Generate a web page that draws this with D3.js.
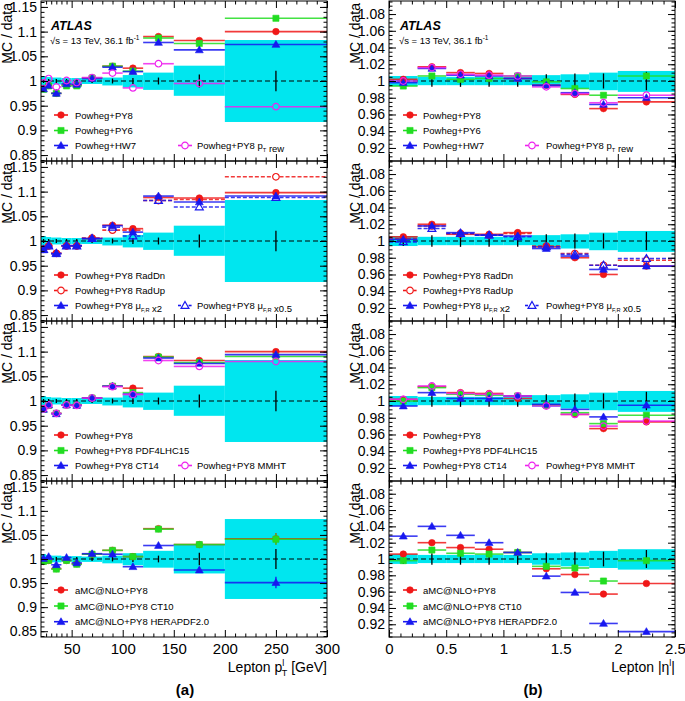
<!DOCTYPE html>
<html><head><meta charset="utf-8">
<script src="https://cdn.jsdelivr.net/npm/d3@7"></script>
<style>body{margin:0;background:#fff} svg{display:block} text{font-family:"Liberation Sans",Arial,Helvetica,sans-serif}</style>
</head><body><svg id="c" width="685" height="701"></svg>
<script>
// ---------- DATA ----------
const ptEdges = [20,25,30,40,50,60,80,100,120,150,200,300];
const etaEdges = [0,0.25,0.5,0.75,1,1.25,1.5,1.75,2,2.5];
const ptTicks = [50,100,150,200,250,300];
const etaTicks = [0,0.5,1,1.5,2,2.5];
const ptYTicks = [0.85,0.9,0.95,1,1.05,1.1,1.15];
const etaYTicks = [0.92,0.94,0.96,0.98,1,1.02,1.04,1.06,1.08];

const ptBandUp = [0.010,0.008,0.007,0.006,0.006,0.005,0.007,0.012,0.017,0.031,0.083];
const ptBandDn = [0.010,0.008,0.007,0.006,0.006,0.006,0.009,0.013,0.018,0.030,0.083];
const ptDataErr = [0.004,0.004,0.004,0.004,0.004,0.004,0.005,0.006,0.007,0.013,0.021];
const etaBandUp = [0.006,0.005,0.005,0.005,0.005,0.007,0.008,0.010,0.012];
const etaBandDn = [0.006,0.005,0.005,0.005,0.005,0.007,0.009,0.011,0.013];
const etaDataErr = [0.006,0.007,0.007,0.007,0.007,0.008,0.009,0.009,0.011];

// lepton pT
const ptPowhegPy8 = [0.985,0.991,0.975,0.992,0.992,1.006,1.030,1.026,1.090,1.082,1.100];
const ptPowhegPy6 = [0.983,0.990,0.975,0.990,0.990,1.006,1.030,1.020,1.087,1.076,1.127];
const ptPowhegHw7 = [0.984,0.991,0.975,0.994,0.993,1.005,1.028,1.019,1.078,1.063,1.074];
const ptPtRew     = [0.996,1.005,0.988,1.001,0.997,1.007,1.016,0.986,1.035,0.995,0.948];
const ptRadDn     = [0.983,0.990,0.975,0.990,0.990,1.005,1.032,1.025,1.088,1.087,1.098];
const ptRadUp     = [0.984,0.990,0.975,0.990,0.990,1.006,1.022,1.022,1.082,1.084,1.130];
const ptMuX2      = [0.982,0.991,0.974,0.991,0.991,1.005,1.031,1.018,1.091,1.079,1.091];
const ptMuX05     = [0.983,0.990,0.975,0.990,0.990,1.005,1.028,1.010,1.082,1.069,1.088];
const ptPdf4lhc   = [0.983,0.991,0.975,0.992,0.991,1.006,1.030,1.017,1.089,1.078,1.090];
const ptCt14      = [0.983,0.992,0.974,0.992,0.991,1.006,1.030,1.014,1.087,1.076,1.094];
const ptMmht      = [0.984,0.992,0.975,0.992,0.991,1.006,1.029,1.013,1.082,1.070,1.080];
const ptAmc       = [0.995,0.997,0.980,0.997,0.990,1.010,1.018,1.005,1.063,1.030,1.042];
const ptAmcCt10   = [0.995,0.997,0.979,0.997,0.989,1.010,1.018,1.005,1.062,1.030,1.041];
const ptAmcHera   = [1.001,1.005,0.988,1.003,0.992,1.011,1.010,0.984,1.028,0.977,0.951];
const ptAmcErr    = [0,0,0,0,0,0,0,0,0.004,0.005,0.012];

// lepton |eta|
const etaPowhegPy8 = [1.002,1.017,1.010,1.009,1.003,0.995,0.984,0.967,0.975];
const etaPowhegPy6 = [0.994,1.006,1.002,1.003,1.006,0.999,0.991,0.983,1.006];
const etaPowhegHw7 = [0.998,1.015,1.007,1.006,1.003,0.995,0.986,0.972,0.980];
const etaPtRew     = [1.000,1.016,1.008,1.007,1.006,0.993,0.985,0.974,0.983];
const etaRadDn     = [1.005,1.020,1.008,1.008,1.010,0.993,0.980,0.960,0.970];
const etaRadUp     = [1.003,1.018,1.009,1.007,1.009,0.994,0.985,0.971,0.977];
const etaMuX2      = [1.002,1.018,1.010,1.007,1.006,0.991,0.982,0.966,0.970];
const etaMuX05     = [0.999,1.015,1.009,1.007,1.005,0.993,0.984,0.971,0.979];
const etaPdf4lhc   = [1.000,1.016,1.008,1.007,1.006,0.995,0.986,0.973,0.983];
const etaCt14      = [0.994,1.010,1.003,1.003,1.006,0.996,0.990,0.981,0.995];
const etaMmht      = [1.002,1.018,1.009,1.008,1.006,0.994,0.984,0.970,0.976];
const etaAmc       = [1.006,1.020,1.014,1.012,1.008,0.988,0.981,0.957,0.970];
const etaAmcCt10   = [0.998,1.011,1.007,1.006,1.008,0.991,0.989,0.973,0.998];
const etaAmcHera   = [1.028,1.040,1.029,1.020,1.008,0.979,0.959,0.921,0.911];

// ---------- STYLE / LAYOUT ----------
const C = {red:"#f01818", green:"#22dd22", blue:"#1818f0", magenta:"#ee22ee", band:"#00e6ef"};
const panelTops = [1,161,321,481], panelHeights = [160,160,160,156];
const FONT = '"Liberation Sans",Arial,Helvetica,sans-serif';

function S(vals, color, shape, open, dashed, label, col, row, err){
  return {vals, color, shape, open, dashed, label, col, row, err};
}
const L = (s)=>[{t:s}];
const panelsPt = [
  [S(ptPowhegPy8,C.red,"circle",false,false,L("Powheg+PY8"),0,0),
   S(ptPowhegPy6,C.green,"square",false,false,L("Powheg+PY6"),0,1),
   S(ptPowhegHw7,C.blue,"triangle",false,false,L("Powheg+HW7"),0,2),
   S(ptPtRew,C.magenta,"circle",true,false,[{t:"Powheg+PY8 p"},{t:"T",sub:true},{t:" rew"}],1,2)],
  [S(ptRadDn,C.red,"circle",false,false,L("Powheg+PY8 RadDn"),0,0),
   S(ptRadUp,C.red,"circle",true,true,L("Powheg+PY8 RadUp"),0,1),
   S(ptMuX2,C.blue,"triangle",false,false,[{t:"Powheg+PY8 μ"},{t:"F,R",sub:true},{t:" x2"}],0,2),
   S(ptMuX05,C.blue,"triangle",true,true,[{t:"Powheg+PY8 μ"},{t:"F,R",sub:true},{t:" x0.5"}],1,2)],
  [S(ptPowhegPy8,C.red,"circle",false,false,L("Powheg+PY8"),0,0),
   S(ptPdf4lhc,C.green,"square",false,false,L("Powheg+PY8 PDF4LHC15"),0,1),
   S(ptCt14,C.blue,"triangle",false,false,L("Powheg+PY8 CT14"),0,2),
   S(ptMmht,C.magenta,"circle",true,false,L("Powheg+PY8 MMHT"),1,2)],
  [S(ptAmc,C.red,"circle",false,false,L("aMC@NLO+PY8"),0,0,ptAmcErr),
   S(ptAmcCt10,C.green,"square",false,false,L("aMC@NLO+PY8 CT10"),0,1,ptAmcErr),
   S(ptAmcHera,C.blue,"triangle",false,false,L("aMC@NLO+PY8 HERAPDF2.0"),0,2,ptAmcErr)]
];
const panelsEta = [
  [S(etaPowhegPy8,C.red,"circle",false,false,L("Powheg+PY8"),0,0),
   S(etaPowhegPy6,C.green,"square",false,false,L("Powheg+PY6"),0,1),
   S(etaPowhegHw7,C.blue,"triangle",false,false,L("Powheg+HW7"),0,2),
   S(etaPtRew,C.magenta,"circle",true,false,[{t:"Powheg+PY8 p"},{t:"T",sub:true},{t:" rew"}],1,2)],
  [S(etaRadDn,C.red,"circle",false,false,L("Powheg+PY8 RadDn"),0,0),
   S(etaRadUp,C.red,"circle",true,true,L("Powheg+PY8 RadUp"),0,1),
   S(etaMuX2,C.blue,"triangle",false,false,[{t:"Powheg+PY8 μ"},{t:"F,R",sub:true},{t:" x2"}],0,2),
   S(etaMuX05,C.blue,"triangle",true,true,[{t:"Powheg+PY8 μ"},{t:"F,R",sub:true},{t:" x0.5"}],1,2)],
  [S(etaPowhegPy8,C.red,"circle",false,false,L("Powheg+PY8"),0,0),
   S(etaPdf4lhc,C.green,"square",false,false,L("Powheg+PY8 PDF4LHC15"),0,1),
   S(etaCt14,C.blue,"triangle",false,false,L("Powheg+PY8 CT14"),0,2),
   S(etaMmht,C.magenta,"circle",true,false,L("Powheg+PY8 MMHT"),1,2)],
  [S(etaAmc,C.red,"circle",false,false,L("aMC@NLO+PY8"),0,0),
   S(etaAmcCt10,C.green,"square",false,false,L("aMC@NLO+PY8 CT10"),0,1),
   S(etaAmcHera,C.blue,"triangle",false,false,L("aMC@NLO+PY8 HERAPDF2.0"),0,2)]
];

const sides = [
  {edges:ptEdges, xDomain:[20,300], xRange:[41,327], yDomain:[0.838,1.162],
   yTicks:ptYTicks, yMinor:d3.range(0.84,1.165,0.01), xTicks:ptTicks,
   xMinor:[25,30,35,40,45].concat(d3.range(60,300,10).filter(v=>v%50!==0)),
   bandUp:ptBandUp, bandDn:ptBandDn, dataErr:ptDataErr, panels:panelsPt,
   legMarkX:[61,185], legTextX:[75,197], titleX:12, atlasX:51, tag:"(a)", tagX:185},
  {edges:etaEdges, xDomain:[0,2.5], xRange:[389,675], yDomain:[0.9044,1.0956],
   yTicks:etaYTicks, yMinor:d3.range(0.905,1.0951,0.005), xTicks:etaTicks,
   xMinor:d3.range(0.1,2.5,0.1).filter(v=>Math.abs(v*2-Math.round(v*2))>1e-6),
   bandUp:etaBandUp, bandDn:etaBandDn, dataErr:etaDataErr, panels:panelsEta,
   legMarkX:[410,532], legTextX:[423,546], titleX:360, atlasX:400, tag:"(b)", tagX:533}
];

const svg = d3.select("#c");
const fmt = d => String(+d.toFixed(3));

function marker(g, shape, open, color, cx, cy){
  const types = {circle:[d3.symbolCircle,34], square:[d3.symbolSquare,38], triangle:[d3.symbolTriangle,27]};
  const [t,sz] = types[shape];
  g.append("path").attr("d", d3.symbol(t, sz)())
   .attr("transform", `translate(${cx},${cy + (shape==="triangle"?0.6:0)})`)
   .attr("fill", open ? "none" : color).attr("stroke", color).attr("stroke-width", open?1.2:0.6);
}
function richText(g, x, y, parts, size){
  const t = g.append("text").attr("x",x).attr("y",y).attr("font-size",size).attr("fill","#000");
  parts.forEach(p=>{
    if(p.sub){ t.append("tspan").attr("font-size",size*0.6).attr("dy",2.5).text(p.t);
      t.append("tspan").attr("dy",-2.5).text(""); }
    else t.append("tspan").text(p.t);
  });
  return t;
}

sides.forEach((side, si)=>{
  const x = d3.scaleLinear().domain(side.xDomain).range(side.xRange);
  const nb = side.edges.length-1;
  side.panels.forEach((series, pi)=>{
    const top = panelTops[pi], h = panelHeights[pi];
    const y = d3.scaleLinear().domain(side.yDomain).range([top+h, top]);
    const g = svg.append("g");
    const cid = `clip${si}${pi}`;
    svg.append("clipPath").attr("id",cid).append("rect")
      .attr("x",side.xRange[0]).attr("y",top).attr("width",side.xRange[1]-side.xRange[0]).attr("height",h);
    const pg = g.append("g").attr("clip-path",`url(#${cid})`);
    // band
    pg.selectAll("rect.band").data(d3.range(nb)).join("rect")
      .attr("x",i=>x(side.edges[i])).attr("width",i=>x(side.edges[i+1])-x(side.edges[i]))
      .attr("y",i=>y(1+side.bandUp[i])).attr("height",i=>y(1-side.bandDn[i])-y(1+side.bandUp[i]))
      .attr("fill",C.band);
    // dashed line at 1
    pg.append("line").attr("x1",side.xRange[0]).attr("x2",side.xRange[1]).attr("y1",y(1)).attr("y2",y(1))
      .attr("stroke","#000").attr("stroke-width",1.2).attr("stroke-dasharray","5,3");
    // data error bars
    pg.selectAll("line.derr").data(d3.range(nb)).join("line")
      .attr("x1",i=>x((side.edges[i]+side.edges[i+1])/2)).attr("x2",i=>x((side.edges[i]+side.edges[i+1])/2))
      .attr("y1",i=>y(1-side.dataErr[i])).attr("y2",i=>y(1+side.dataErr[i]))
      .attr("stroke","#000").attr("stroke-width",1.3);
    // series
    series.forEach(s=>{
      s.vals.forEach((v,i)=>{
        const x0=x(side.edges[i]), x1=x(side.edges[i+1]), cx=x((side.edges[i]+side.edges[i+1])/2), cy=y(v);
        const segs = s.open ? [[x0,cx-3.6],[cx+3.6,x1]] : [[x0,x1]];
        segs.forEach(([a,b])=>pg.append("line").attr("x1",a).attr("x2",b).attr("y1",cy).attr("y2",cy)
          .attr("stroke",s.color).attr("stroke-width",1.6).attr("stroke-opacity",0.85)
          .attr("stroke-dasharray", s.dashed?"4,2":null));
        if(s.err && s.err[i]>0){
          pg.append("line").attr("x1",cx).attr("x2",cx).attr("y1",y(v-s.err[i])).attr("y2",y(v+s.err[i]))
            .attr("stroke",s.color).attr("stroke-width",1.3);
        }
        marker(pg, s.shape, s.open, s.color, cx, cy);
      });
    });
    // frame
    g.append("rect").attr("x",side.xRange[0]).attr("y",top).attr("width",side.xRange[1]-side.xRange[0]).attr("height",h)
      .attr("fill","none").attr("stroke","#000").attr("stroke-width",1);
    // axes
    const ax = (gen, tx, ty)=>{ const a = g.append("g").attr("transform",`translate(${tx},${ty})`).call(gen);
      a.select(".domain").remove(); a.selectAll("line").attr("stroke","#000"); return a; };
    const yl = ax(d3.axisLeft(y).tickValues(side.yTicks).tickSize(-7).tickPadding(4).tickFormat(fmt), side.xRange[0], 0);
    yl.attr("font-size",14).attr("font-family",FONT);
    ax(d3.axisLeft(y).tickValues(side.yMinor).tickSize(-3.5).tickFormat(""), side.xRange[0], 0);
    ax(d3.axisRight(y).tickValues(side.yTicks).tickSize(-7).tickFormat(""), side.xRange[1], 0);
    ax(d3.axisRight(y).tickValues(side.yMinor).tickSize(-3.5).tickFormat(""), side.xRange[1], 0);
    ax(d3.axisTop(x).tickValues(side.xTicks).tickSize(-7).tickFormat(""), 0, top);
    ax(d3.axisTop(x).tickValues(side.xMinor).tickSize(-3.5).tickFormat(""), 0, top);
    const isLast = pi===side.panels.length-1;
    const xb = ax(d3.axisBottom(x).tickValues(side.xTicks).tickSize(-7).tickPadding(6).tickFormat(isLast?fmt:""), 0, top+h);
    xb.attr("font-size",15).attr("font-family",FONT);
    ax(d3.axisBottom(x).tickValues(side.xMinor).tickSize(-3.5).tickFormat(""), 0, top+h);
    // y title
    g.append("text").attr("transform",`translate(${side.titleX},${top+2}) rotate(-90)`)
      .attr("text-anchor","end").attr("font-size",14).text("MC / data");
    // legend
    const rowsY = pi===3 ? [109,125,140.7] : [114,129.5,144.5];
    series.forEach(s=>{
      const mx = side.legMarkX[s.col], my = top + rowsY[s.row];
      const lg = g.append("g");
      const segs = s.open ? [[mx-7,mx-3.6],[mx+3.6,mx+7]] : [[mx-7,mx+7]];
      segs.forEach(([a,b])=>lg.append("line").attr("x1",a).attr("x2",b).attr("y1",my).attr("y2",my)
        .attr("stroke",s.color).attr("stroke-width",1.6).attr("stroke-dasharray",s.dashed?"3,1.5":null));
      marker(lg, s.shape, s.open, s.color, mx, my);
      richText(lg, side.legTextX[s.col], my+3.5, s.label, 9.5);
    });
    if(pi===0){
      g.append("text").attr("x",side.atlasX).attr("y",top+28.5).attr("font-size",12.5)
        .attr("font-weight","bold").attr("font-style","italic").text("ATLAS");
      const t = g.append("text").attr("x",side.atlasX-1).attr("y",top+43).attr("font-size",9.5);
      t.append("tspan").text("√s = 13 TeV, 36.1 fb");
      t.append("tspan").attr("font-size",6.5).attr("dy",-4).text("-1");
    }
  });
  // x title
  const t = svg.append("text").attr("x",side.xRange[1]).attr("y",672).attr("text-anchor","end").attr("font-size",14);
  if(si===0){
    t.append("tspan").text("Lepton p");
    t.append("tspan").attr("font-size",9).attr("dy",-6).text("l");
    t.append("tspan").attr("font-size",9).attr("dx",-2.5).attr("dy",10).text("T");
    t.append("tspan").attr("dy",-4).text(" [GeV]");
  } else {
    t.append("tspan").text("Lepton |η");
    t.append("tspan").attr("font-size",9).attr("dy",-6).text("l");
    t.append("tspan").attr("dy",6).text("|");
  }
  svg.append("text").attr("x",side.tagX).attr("y",695).attr("text-anchor","middle")
    .attr("font-size",15).attr("font-weight","bold").text(side.tag);
});
</script></body></html>
